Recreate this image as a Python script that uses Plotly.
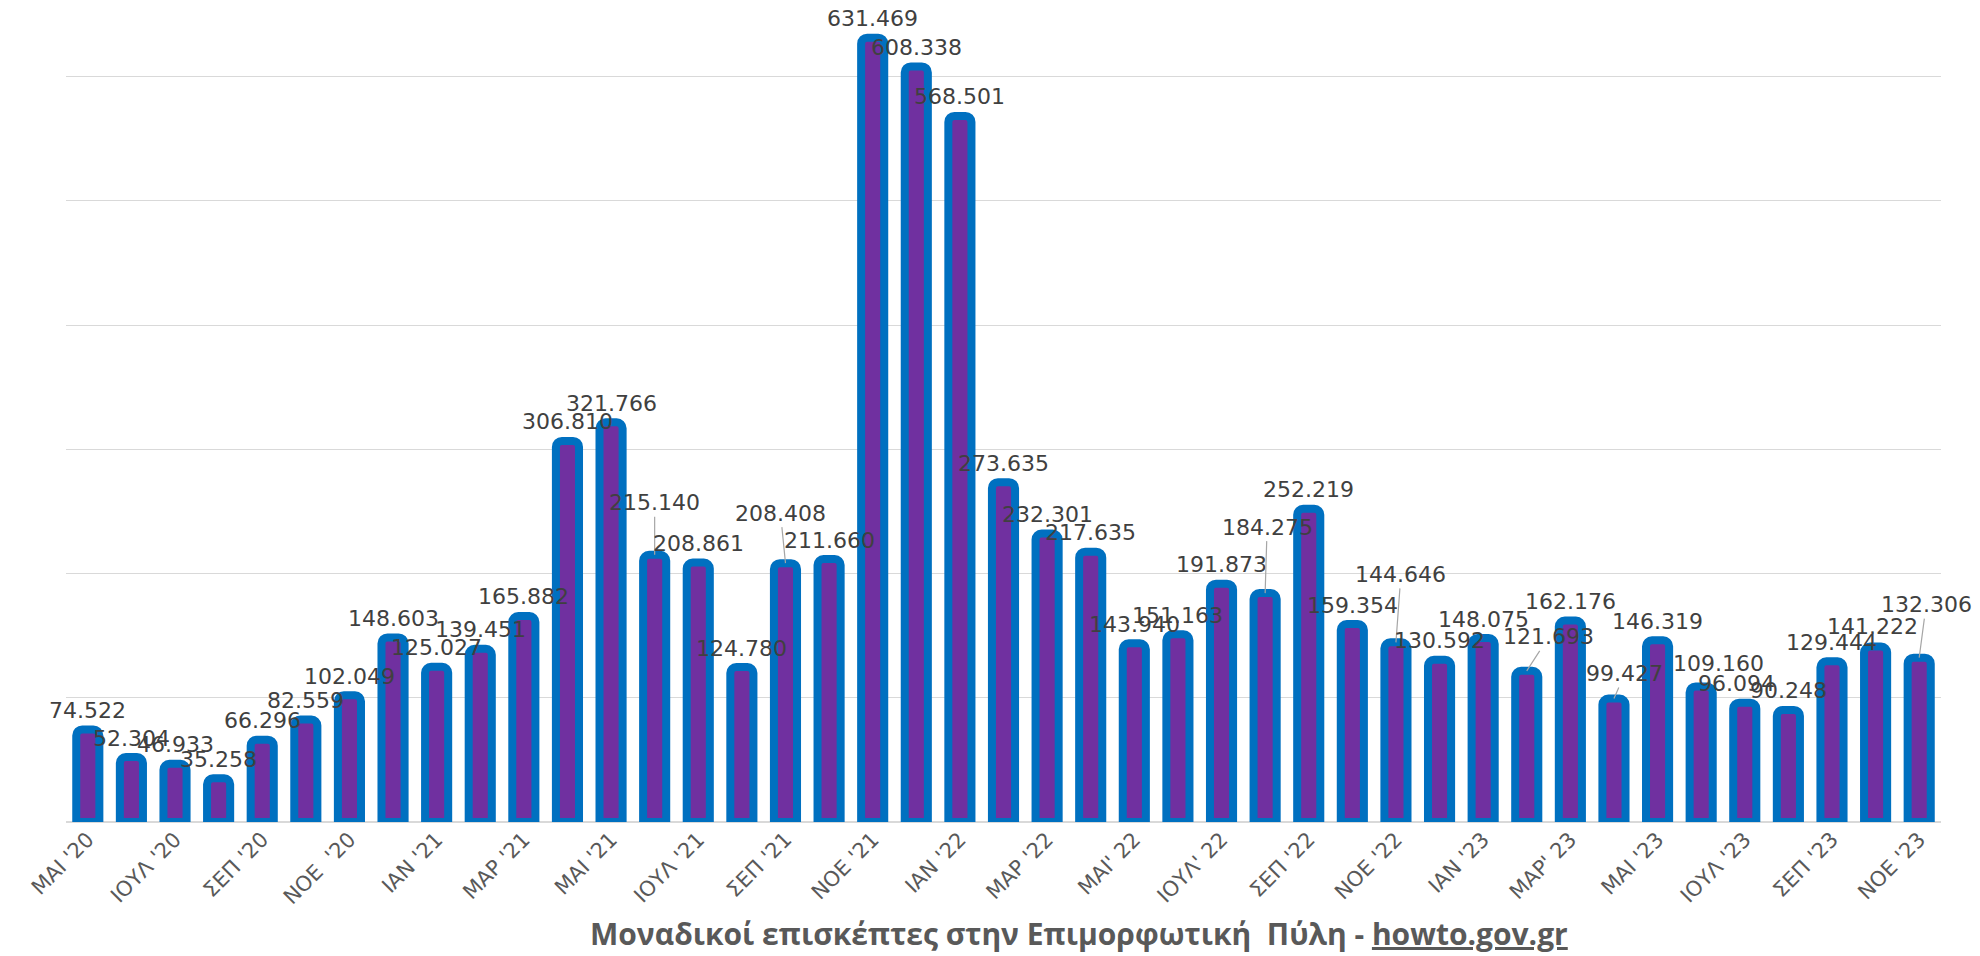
import plotly.graph_objects as go

# Monthly unique visitors, May 2020 - Nov 2023
months = [
    "ΜΑΙ '20", "ΙΟΥΝ '20", "ΙΟΥΛ '20", "ΑΥΓ '20", "ΣΕΠ '20", "ΟΚΤ '20", "ΝΟΕ '20", "ΔΕΚ '20",
    "ΙΑΝ '21", "ΦΕΒ '21", "ΜΑΡ '21", "ΑΠΡ '21", "ΜΑΙ '21", "ΙΟΥΝ '21", "ΙΟΥΛ '21", "ΑΥΓ '21",
    "ΣΕΠ '21", "ΟΚΤ '21", "ΝΟΕ '21", "ΔΕΚ '21",
    "ΙΑΝ '22", "ΦΕΒ '22", "ΜΑΡ '22", "ΑΠΡ '22", "ΜΑΙ '22", "ΙΟΥΝ '22", "ΙΟΥΛ '22", "ΑΥΓ '22",
    "ΣΕΠ '22", "ΟΚΤ '22", "ΝΟΕ '22", "ΔΕΚ '22",
    "ΙΑΝ '23", "ΦΕΒ '23", "ΜΑΡ '23", "ΑΠΡ '23", "ΜΑΙ '23", "ΙΟΥΝ '23", "ΙΟΥΛ '23", "ΑΥΓ '23",
    "ΣΕΠ '23", "ΟΚΤ '23", "ΝΟΕ '23",
]

visitors = [
    74522, 52304, 46933, 35258, 66296, 82559, 102049, 148603,
    125027, 139451, 165882, 306810, 321766, 215140, 208861, 124780,
    208408, 211660, 631469, 608338,
    568501, 273635, 232301, 217635, 143940, 151163, 191873, 184275,
    252219, 159354, 144646, 130592,
    148075, 121693, 162176, 99427, 146319, 109160, 96094, 90248,
    129444, 141222, 132306,
]

# every other month is labelled on the axis
tick_labels = [
    "ΜΑΙ '20", "ΙΟΥΛ '20", "ΣΕΠ '20", "ΝΟΕ  '20", "ΙΑΝ '21", "ΜΑΡ '21", "ΜΑΙ '21",
    "ΙΟΥΛ '21", "ΣΕΠ '21", "ΝΟΕ '21", "ΙΑΝ '22", "ΜΑΡ '22", "ΜΑΙ' 22", "ΙΟΥΛ' 22",
    "ΣΕΠ '22", "ΝΟΕ '22", "ΙΑΝ '23", "ΜΑΡ' 23", "ΜΑΙ '23", "ΙΟΥΛ '23", "ΣΕΠ '23", "ΝΟΕ '23",
]

# value labels sit centred above their bar; a few are pulled away on a leader line
# (index -> pixel offset of the label centre from the bar top)
DEFAULT_OFFSET = (0, -19)
moved_labels = {
    13: (0, -52), 16: (-5, -50), 27: (2, -66), 30: (5, -68),
    33: (22, -34), 35: (11, -25), 37: (17, -23), 38: (-8, -19),
    41: (-3, -20), 42: (7, -53),
}
leader = {13, 16, 27, 30, 33, 35, 42}

BLUE = "#0070C0"
PURPLE = "#7030A0"
LABEL_FONT = dict(family="DejaVu Sans", size=22, color="#404040")


def fmt(v):
    return f"{v:,}".replace(",", ".")


fig = go.Figure(
    go.Bar(
        x=months,
        y=visitors,
        marker=dict(color=PURPLE, line=dict(color=BLUE, width=8), cornerradius=6),
        hoverinfo="x+y",
    )
)

annotations = []
for i, (m, v) in enumerate(zip(months, visitors)):
    dx, dy = moved_labels.get(i, DEFAULT_OFFSET)
    annotations.append(dict(
        x=m, y=v, xref="x", yref="y",
        text=fmt(v), font=LABEL_FONT,
        showarrow=True, arrowhead=0, arrowwidth=1.2, standoff=0,
        arrowcolor="#a6a6a6" if i in leader else "rgba(0,0,0,0)",
        ax=dx, ay=dy,
    ))

annotations.append(dict(
    x=0.54, y=0.0, xref="paper", yref="paper", xanchor="center", yanchor="middle",
    yshift=-111,
    text="<b>Μοναδικοί επισκέπτες στην Επιμορφωτική  Πύλη - <u>howto.gov.gr</u></b>",
    font=dict(family="Open Sans", size=30, color="#595959"),
    showarrow=False,
))

fig.update_layout(
    width=1980, height=956,
    margin=dict(l=66, r=39, t=0, b=134),
    paper_bgcolor="white", plot_bgcolor="white",
    bargap=0.47,
    showlegend=False,
    annotations=annotations,
    xaxis=dict(
        type="category", range=[-0.5, len(months) - 0.5], fixedrange=True,
        tickmode="array", tickvals=months[::2], ticktext=tick_labels,
        tickangle=-45, tickfont=dict(family="DejaVu Sans", size=21, color="#595959"),
        showgrid=False, showline=False, ticks="",
    ),
    yaxis=dict(
        range=[0, 661800], dtick=100000, tick0=0, fixedrange=True,
        showticklabels=False, showgrid=True, gridcolor="#d9d9d9", gridwidth=1,
        zeroline=True, zerolinecolor="#d9d9d9", zerolinewidth=1.5,
    ),
)

fig.write_html("out.html")
